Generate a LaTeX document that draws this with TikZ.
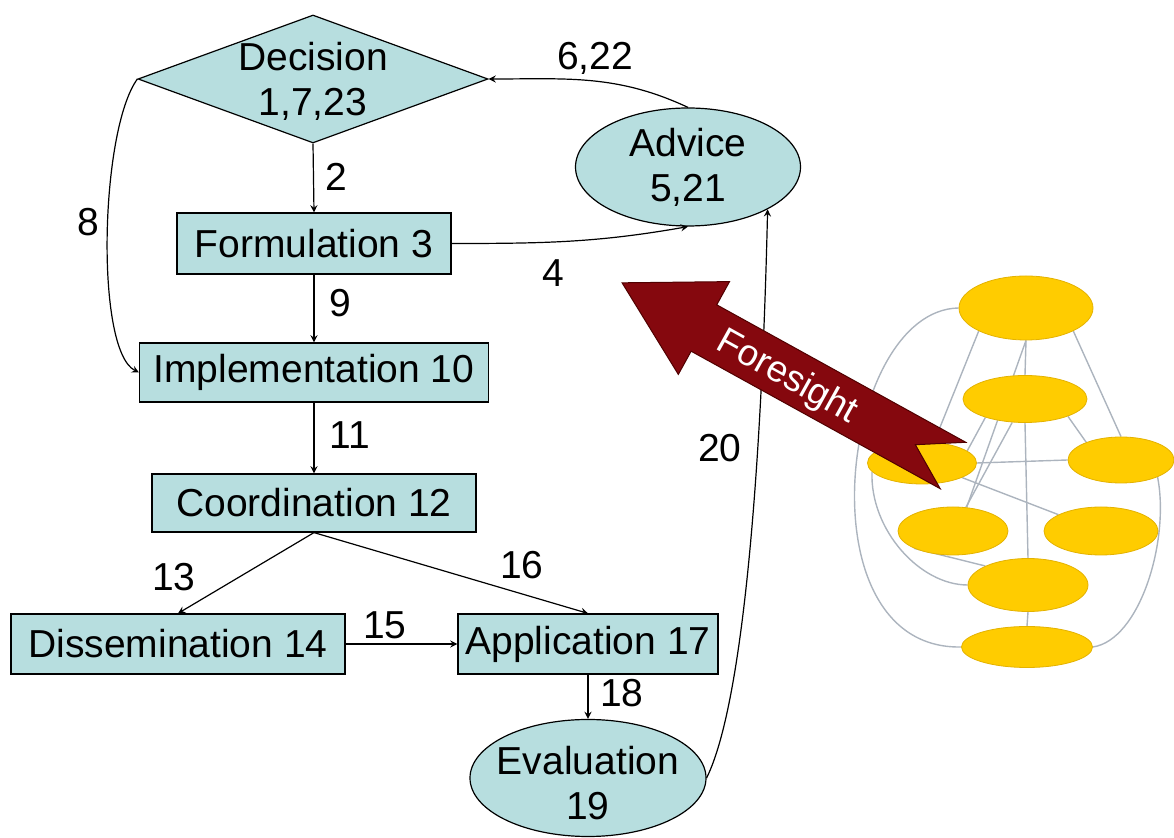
\documentclass[tikz,border=0pt]{standalone}
\usepackage{fontspec}
\setmainfont{Liberation Sans}
\usetikzlibrary{shapes.geometric,arrows}

\definecolor{boxteal}{RGB}{183,222,223}
\definecolor{blobgold}{RGB}{255,204,0}
\definecolor{blobedge}{RGB}{228,178,0}
\definecolor{netgray}{RGB}{172,180,190}
\definecolor{arrowred}{RGB}{133,8,14}
\definecolor{arrowedge}{RGB}{80,0,0}

\pgfdeclarelayer{back}
\pgfsetlayers{back,main}

\begin{document}
\begin{tikzpicture}[x=0.5pt,y=0.5pt,>=stealth,
  every node/.style={font=\fontsize{19.5}{22.5}\selectfont},
  stage/.style={draw, fill=boxteal, line width=0.6pt, inner sep=0pt},
  decision/.style={diamond, draw, fill=boxteal, line width=0.6pt, inner sep=0pt,
    minimum width=175pt, minimum height=64pt},
  oval/.style={ellipse, draw, fill=boxteal, line width=0.6pt, inner sep=0pt, align=center},
  blob/.style={ellipse, fill=blobgold, draw=blobedge, line width=0.4pt, inner sep=0pt},
  netline/.style={draw=netgray, line width=0.7pt},
  flow/.style={->, line width=0.6pt}]

\useasboundingbox (0,0) rectangle (1174,-838);

%stages of the cycle
\node[decision] (dec) at (313,-79) {};
\node[align=center] (dectxt) at (313,-81) {Decision\\1,7,23};
\node[stage, minimum width=137pt, minimum height=30.5pt] (form) at (314,-243.5) {Formulation 3};
\node[stage, minimum width=174.5pt, minimum height=29.5pt] (impl) at (314,-372.5) {Implementation 10};
\node[stage, minimum width=162pt, minimum height=29pt] (coord) at (314,-503) {Coordination 12};
\node[stage, minimum width=167pt, minimum height=30pt] (diss) at (178,-644) {Dissemination 14};
\node[stage, minimum width=130pt, minimum height=30pt] (appl) at (588,-644) {Application 17};
\node[oval, minimum width=112.5pt, minimum height=59pt] (adv) at (688,-167) {Advice\\5,21};
\node[oval, minimum width=118pt, minimum height=58.5pt] (eval) at (588,-778) {};
\node[align=center] (evaltxt) at (588,-783) {Evaluation\\19};

%connectors
\draw[flow] (dec.south) -- (form.north);
\draw[flow] (form.south) -- (impl.north);
\draw[flow] (impl.south) -- (coord.north);
\draw[flow] (coord.south) -- (diss.north);
\draw[flow] (coord.south) -- (appl.north);
\draw[flow] (diss.east) -- (appl.west);
\draw[flow] (appl.south) -- (eval.north);
\draw[flow] (form.east) to[out=0,in=190] (adv.south);
\draw[flow] (adv.north) to[out=155,in=0] (dec.east);
\draw[flow] (dec.west) .. controls (100,-130) and (95,-350) .. (impl.west);
\draw[flow] (eval.east) .. controls (745,-700) and (762,-450) .. (adv.-28);

%step numbers
\node (l2) at (336,-177) {2};
\node (l4) at (553,-273) {4};
\node (l622) at (595,-58) {6,22};
\node (l8) at (88,-222) {8};
\node (l9) at (340,-303) {9};
\node (l11) at (350,-435) {11};
\node (l13) at (174,-577) {13};
\node (l15) at (385,-625) {15};
\node (l16) at (522,-565) {16};
\node (l18) at (622,-693) {18};
\node (l20) at (720,-448) {20};

%network
\foreach \n/\x/\y/\w/\h in {1/1026/308/67/32, 2/1025/399/62/23.5, 3/922/463/54.5/21,
    4/1121/460/53/23, 5/953/531/55/24, 6/1101/531/57/24, 7/1028/585/60/26.5, 8/1027/647/65.5/20.5}
  \node[blob, minimum width=\w pt, minimum height=\h pt] (n\n) at (\x,-\y) {};

\begin{pgfonlayer}{back}
\draw[netline] (n1.west) .. controls (840,-310) and (800,-650) .. (n8.west);
\draw[netline] (n3.190) .. controls (870,-530) and (920,-585) .. (n7.west);
\draw[netline] (n4.-25) .. controls (1170,-540) and (1140,-640) .. (n8.east);
\draw[netline] (n1.south) -- (n2.north);
\draw[netline] (n1.-26) -- (n4.north);
\draw[netline] (n1.206) -- (n3.60);
\draw[netline] (n1.south) -- (n5.60);
\draw[netline] (n2) -- (n5);
\draw[netline] (n2.205) -- (n3.15);
\draw[netline] (n2.-22) -- (n4.153);
\draw[netline] (n2.south) -- (n7.north);
\draw[netline] (n3.east) -- (n4.west);
\draw[netline] (n3.-20) -- (n6.159);
\draw[netline] (n5.south west) -- (n7.north west);
\draw[netline] (n7.south) -- (n8.north);
\end{pgfonlayer}

%foresight arrow, notched tail
\filldraw[fill=arrowred, draw=arrowedge, line width=0.5pt, shift={(953,-465.5)}, rotate=151.1]
  (0,26.5) -- (284.5,26.5) -- (284.5,53) -- (378,0) -- (284.5,-53) -- (284.5,-26.5)
  -- (0,-26.5) -- (43,0) -- cycle;
\node[text=white, rotate=-29, font=\fontsize{18.5}{21}\selectfont] (fore) at (787,-378) {Foresight};

\end{tikzpicture}
\end{document}
